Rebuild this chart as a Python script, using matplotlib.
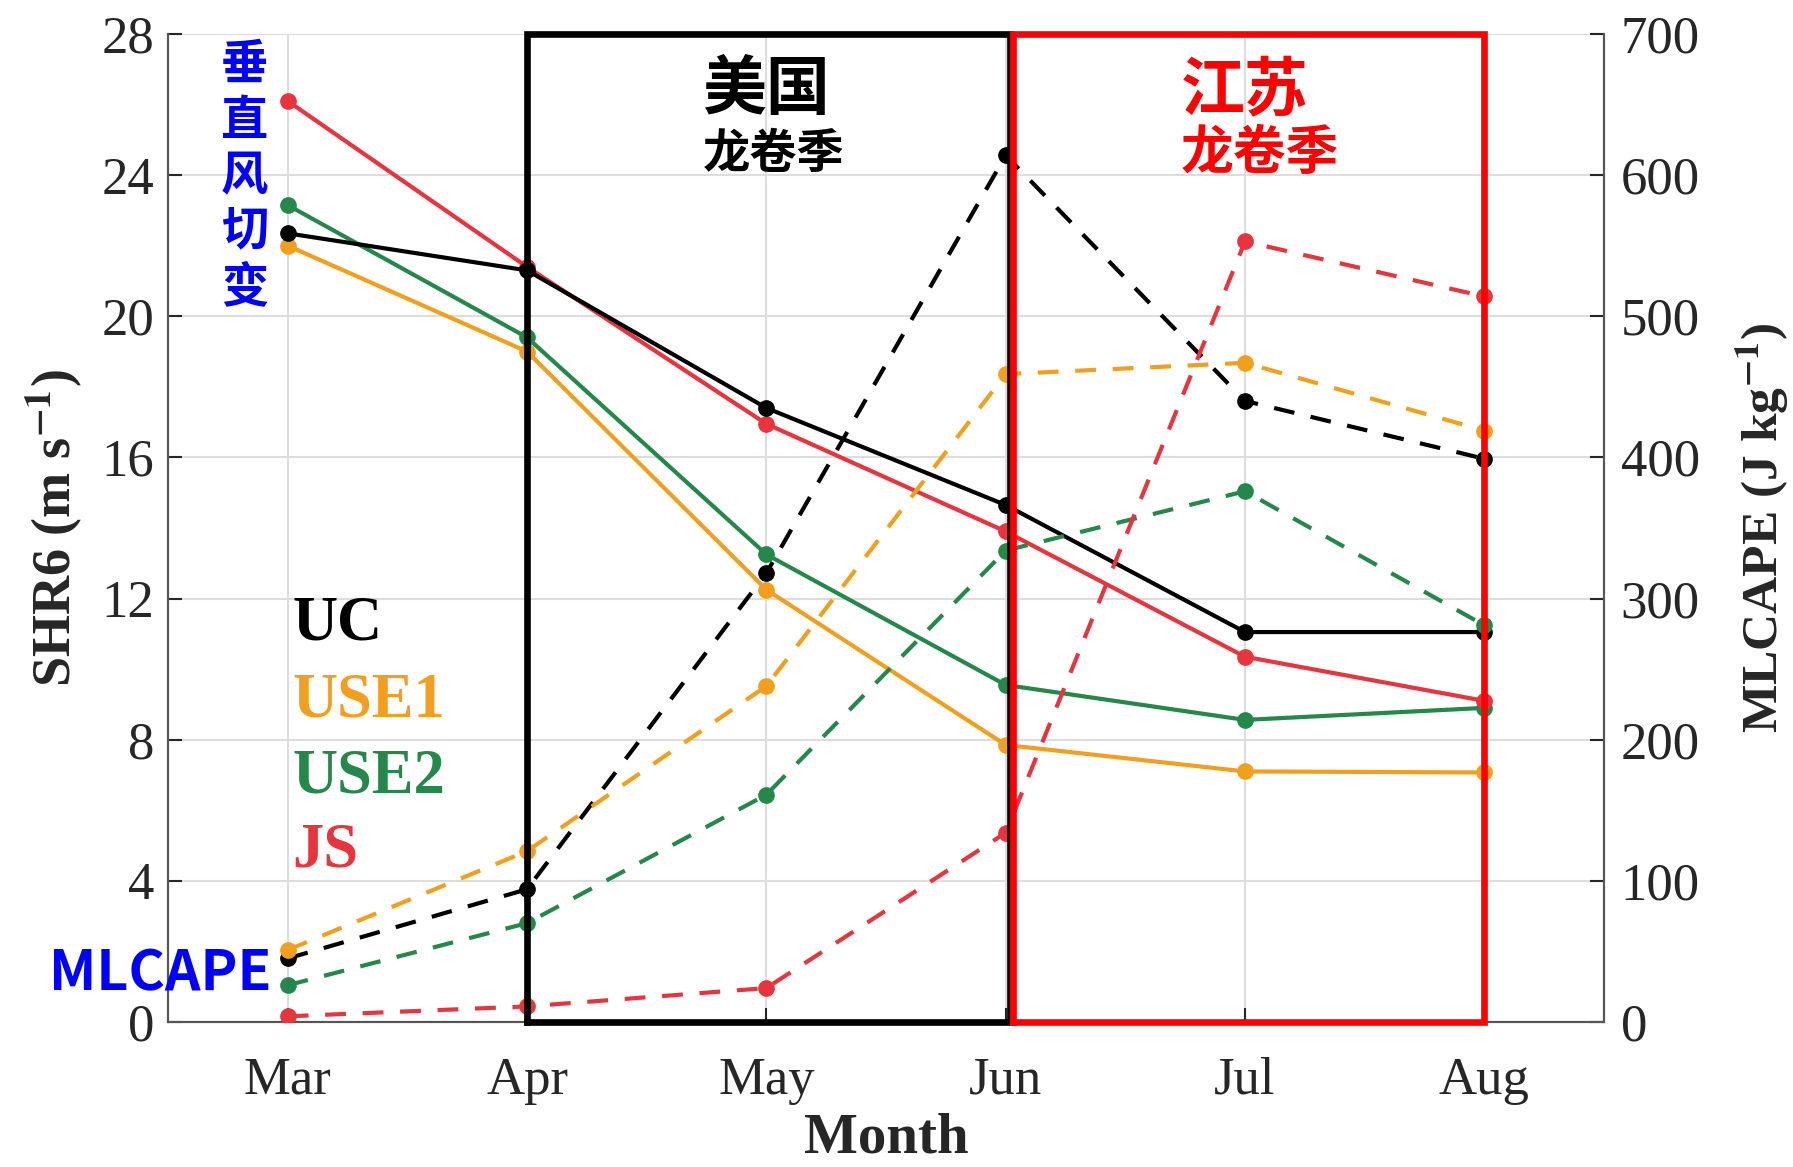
import numpy as np
import matplotlib
matplotlib.use("Agg")
import matplotlib.pyplot as plt

plt.rcParams['font.family'] = ['Liberation Serif', 'DejaVu Serif']
plt.rcParams['mathtext.fontset'] = 'stix'

# Data
months = ['Mar', 'Apr', 'May', 'Jun', 'Jul', 'Aug']
groups = ['UC', 'USE1', 'USE2', 'JS']
colors = {'UC': '#000000', 'USE1': '#F29F1D', 'USE2': '#23884A', 'JS': '#E8343C'}

# SHR6 (m s-1), solid lines
shr6_uc = [22.35, 21.3, 17.4, 14.65, 11.05, 11.05]
shr6_use1 = [22.0, 19.0, 12.25, 7.85, 7.1, 7.07]
shr6_use2 = [23.15, 19.4, 13.25, 9.55, 8.56, 8.9]
shr6_js = [26.1, 21.4, 16.95, 13.9, 10.35, 9.1]

# MLCAPE (J kg-1), dashed lines
cape_uc = [45, 94, 318, 614, 440, 399]
cape_use1 = [51, 121, 238, 459, 467, 419]
cape_use2 = [26, 70, 161, 334, 376, 281]
cape_js = [4, 11, 24, 134, 553, 514]

shr6 = {'UC': shr6_uc, 'USE1': shr6_use1, 'USE2': shr6_use2, 'JS': shr6_js}
cape = {'UC': cape_uc, 'USE1': cape_use1, 'USE2': cape_use2, 'JS': cape_js}

x = np.arange(1, len(months) + 1)

fig = plt.figure(figsize=(17.93, 11.67), dpi=100)
ax1 = fig.add_axes([0.0937, 0.1243, 0.8009, 0.8466])
ax2 = ax1.twinx()

# solid lines (left axis), UC drawn last so it sits on top
for g in ['USE1', 'USE2', 'JS', 'UC']:
    ax1.plot(x, shr6[g], '-', color=colors[g], lw=3.0, marker='o', ms=11, zorder=3)

# dashed lines (right axis)
for g in ['UC', 'USE1', 'USE2', 'JS']:
    ax2.plot(x, cape[g], color=colors[g], lw=3.0, ls=(0, (5, 4)), marker='o', ms=11, zorder=3)

ax1.set_xlim(0.5, 6.5)
ax1.set_ylim(0, 28)
ax2.set_ylim(0, 700)
ax1.set_xticks(x)
ax1.set_xticklabels(months)
ax1.set_yticks(np.arange(0, 29, 4))
ax2.set_yticks(np.arange(0, 701, 100))

ax1.grid(True, color='#dddddd', lw=1.5)
ax1.set_axisbelow(True)

for ax in (ax1, ax2):
    ax.tick_params(direction='in', length=10, width=1.5, labelsize=38, colors='#262626')
    ax.spines['top'].set_visible(False)
    for s in ('left', 'right', 'bottom'):
        ax.spines[s].set_color('#555555')
        ax.spines[s].set_linewidth(1.5)
ax1.tick_params(axis='x', pad=25)
ax1.tick_params(axis='y', pad=10)
ax2.tick_params(axis='y', pad=12)

ax1.set_xlabel('Month', fontsize=41, fontweight='bold', color='#262626', labelpad=6)
ax1.set_ylabel(r'SHR6 (m s$^{\mathbf{-1}}$)', fontsize=39, fontweight='bold', color='#262626', labelpad=12)
ax2.set_ylabel(r'MLCAPE (J kg$^{\mathbf{-1}}$)', fontsize=37, fontweight='bold', color='#262626', labelpad=24)

# season boxes
ax2.plot([2, 4.02, 4.02, 2, 2], [0, 0, 700, 700, 0], color='black', lw=4.8,
         solid_joinstyle='miter', zorder=5, clip_on=False)
ax2.plot([4.03, 6, 6, 4.03, 4.03], [0, 0, 700, 700, 0], color='#FF0000', lw=4.8,
         solid_joinstyle='miter', zorder=5, clip_on=False)

cjk = ['Noto Sans CJK SC', 'DejaVu Sans']
ax2.text(3.0, 26.4 * 25, '美国', family=cjk, fontweight='bold', fontsize=46,
         ha='center', va='center', color='black', zorder=6)
ax2.text(3.03, 24.6 * 25, '龙卷季', family=cjk, fontweight='bold', fontsize=34,
         ha='center', va='center', color='black', zorder=6)
ax2.text(5.0, 26.4 * 25, '江苏', family=cjk, fontweight='bold', fontsize=46,
         ha='center', va='center', color='#FF0000', zorder=6)
ax2.text(5.06, 24.6 * 25, '龙卷季', family=cjk, fontweight='bold', fontsize=38,
         ha='center', va='center', color='#FF0000', zorder=6)
ax2.text(0.82, 27.8 * 25, '垂\n直\n风\n切\n变', family=cjk, fontweight='bold', fontsize=34,
         ha='center', va='top', color='#0000FF', linespacing=1.2, zorder=6)
ax2.text(0.935, 1.36 * 25, 'MLCAPE', family=cjk, fontweight='bold', fontsize=40,
         ha='right', va='center', color='#0000FF', zorder=6)

# group labels
label_y = [11.25, 9.07, 6.94, 4.83]
for g, yy in zip(groups, label_y):
    ax2.text(1.02, yy * 25, g, fontsize=45, fontweight='bold', color=colors[g],
             ha='left', va='center', zorder=6)

plt.savefig('out.png', dpi=100)
